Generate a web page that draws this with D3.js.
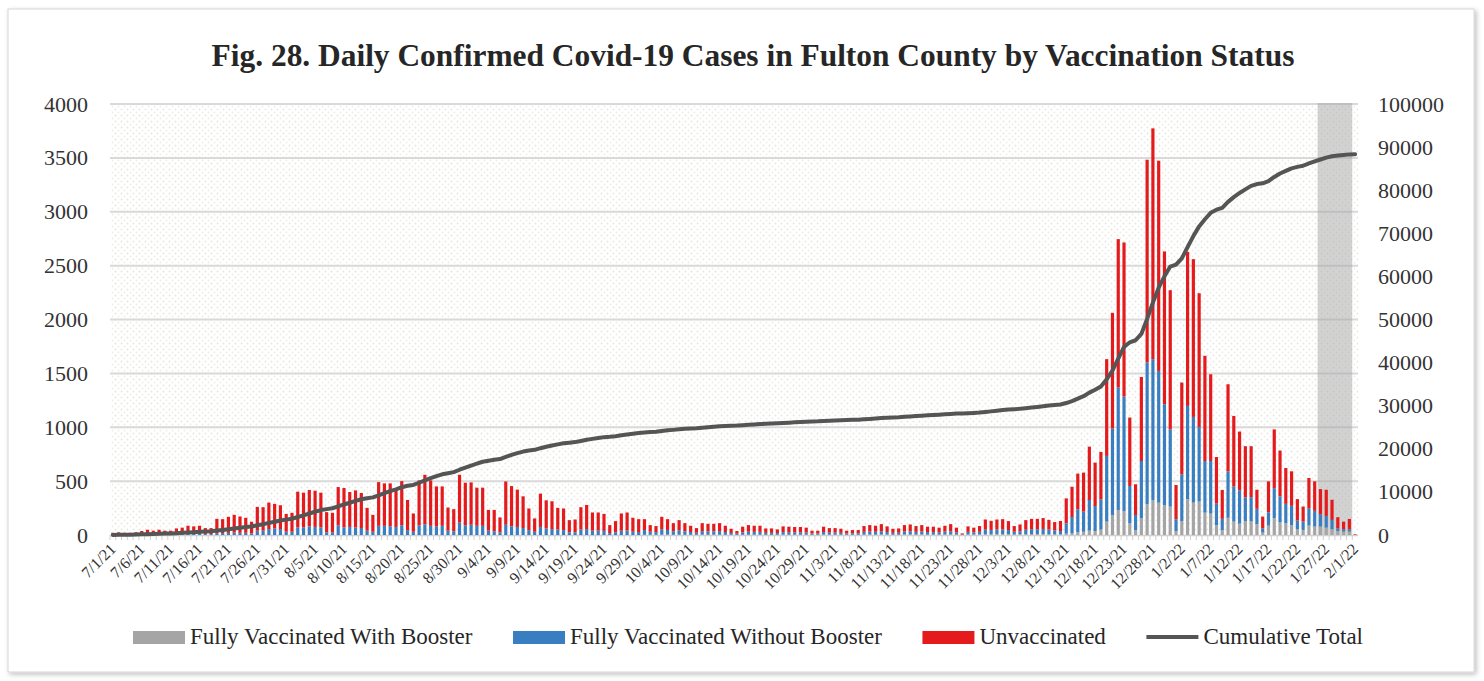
<!DOCTYPE html>
<html>
<head>
<meta charset="utf-8">
<script src="https://cdn.jsdelivr.net/npm/d3@7"></script>
<style>
  body { margin: 0; background: #fff; }
  svg { display: block; }
  text { font-family: "Liberation Serif", "Times New Roman", serif; fill: #262626; }
</style>
</head>
<body>
<svg id="chart" width="1484" height="681"></svg>
<script>
// daily cases 7/1/21 .. 2/1/22
var booster = [
  0,0,0,0,0,0,0,0,0,0, 0,0,0,0,0,0,0,0,0,0, 0,0,0,0,0,0,0,0,0,0,
  0,0,0,0,0,0,0,0,0,0, 0,0,0,0,0,0,0,0,0,0, 0,0,0,0,0,0,0,0,0,0,
  0,0,0,0,0,0,0,0,0,0, 0,0,0,0,0,0,0,0,0,0, 0,0,0,0,0,0,0,0,0,0, 0,0,
  2,2,2,3,3,2,3,2,2,2, 3,3,3,3,2,2,1,2,3,3, 3,2,2,2,3,3,3,3,3,2,
  2,4,3,3,3,2,2,2,4,4, 4,5,4,3,3,5,5,4,5,4, 4,4,5,5,4,1,5,4,5,8,
  7,8,8,7,5,6,8,9,9,9, 8,7,
  8,12,15,25,30,40,35,50,124,186, 232,223,108,43,155,285,322,300,276,263,
  37,130,331,300,310,207,198,90,46,160, 124,105,130,125,100,22,87,155,118,109,
  93,53,47,87,78,78,68,53,37,31, 31,0
];
var noBooster = [
  2,
  3,2,2,3,5,6,5,6,5,5, 8,9,10,10,10,8,8,18,18,20,
  22,20,20,15,40,40,55,60,55,30, 30,70,70,80,75,70,25,25,90,70,
  75,70,65,40,30,85,85,80,75,90, 45,30,90,100,85,80,85,40,35,115,
  90,95,85,85,40,35,25,95,80,75, 65,45,30,75,60,55,50,45,25,25,
  50,55,40,40,38,18,25,40,42,30, 28,
  44,28,25,50,44,33,41,33,26,19, 33,31,31,33,26,17,11,23,28,26,
  26,18,18,16,24,23,22,22,20,12, 12,23,19,19,17,12,14,14,25,28,
  26,30,24,17,18,28,29,25,28,23, 23,20,26,30,20,4,24,20,25,43,
  40,43,44,39,25,29,41,45,45,47, 42,36,
  29,96,152,213,187,285,234,281,610,802, 1136,1062,347,143,532,1316,1310,1223,938,718,
  109,433,867,796,693,480,489,201,104,430, 325,310,220,226,143,40,124,280,240,180,
  178,81,77,162,146,115,109,87,25,22, 22,0
];
var unvaccinated = [
  18,
  22,18,18,22,32,43,35,43,35,35, 53,59,76,70,76,56,56,132,129,149,
  165,152,140,108,221,218,246,229,221,166, 176,332,323,338,336,323,187,181,355,366,
  324,344,325,212,157,406,394,399,339,410, 280,170,417,459,422,371,366,215,205,444,
  395,393,354,354,193,198,138,402,374,346, 294,201,124,309,262,258,202,201,113,119,
  208,224,169,169,158,74,104,160,167,130, 119,
  101,62,56,116,100,75,94,75,58,43, 74,70,70,74,58,39,25,52,61,57,
  57,41,41,34,53,51,49,49,45,26, 26,50,42,42,38,26,30,30,54,60,
  56,66,52,38,40,59,64,54,59,50, 50,44,55,66,44,10,51,44,53,93,
  85,93,95,83,53,63,89,96,96,101, 91,77,
  93,232,281,332,362,495,403,440,898,1074, 1378,1430,635,285,780,1882,2142,1951,1418,1291,
  318,852,1430,1464,1241,976,805,433,268,809, 656,545,474,473,177,109,287,545,426,333,
  320,199,140,280,274,233,243,187,103,71, 96,6
];
var dayTicks = ["7/1/21","7/6/21","7/11/21","7/16/21","7/21/21","7/26/21","7/31/21","8/5/21",
  "8/10/21","8/15/21","8/20/21","8/25/21","8/30/21","9/4/21","9/9/21","9/14/21","9/19/21",
  "9/24/21","9/29/21","10/4/21","10/9/21","10/14/21","10/19/21","10/24/21","10/29/21",
  "11/3/21","11/8/21","11/13/21","11/18/21","11/23/21","11/28/21","12/3/21","12/8/21",
  "12/13/21","12/18/21","12/23/21","12/28/21","1/2/22","1/7/22","1/12/22","1/17/22",
  "1/22/22","1/27/22","2/1/22"];
var leftTicks = [0,500,1000,1500,2000,2500,3000,3500,4000];
var rightTicks = [0,10000,20000,30000,40000,50000,60000,70000,80000,90000,100000];
var seriesNames = ["Fully Vaccinated With Booster","Fully Vaccinated Without Booster","Unvaccinated","Cumulative Total"];
var shadeFrom = "1/26/22", shadeTo = "1/31/22";

var fmt = d3.timeFormat("%-m/%-d/%y");
var days = d3.timeDay.range(new Date(2021, 6, 1), new Date(2022, 1, 2)).map(fmt);

var rows = days.map(function(d, i) {
  return { day: d, booster: booster[i], noBooster: noBooster[i], unvax: unvaccinated[i] };
});
var cumulative = Array.from(d3.cumsum(rows, function(r) { return r.booster + r.noBooster + r.unvax; }));

var svg = d3.select("#chart");
var W = 1484, H = 681;
var plot = { left: 110, right: 1358, top: 104, bottom: 535 };
var colors = { booster: "#a5a5a5", noBooster: "#3a7ec2", unvax: "#e41a1c", line: "#555555" };

// card frame
var defs = svg.append("defs");
var shadow = defs.append("filter").attr("id", "shadow").attr("x", "-2%").attr("y", "-2%").attr("width", "104%").attr("height", "106%");
shadow.append("feDropShadow").attr("dx", 2).attr("dy", 2).attr("stdDeviation", 2.5).attr("flood-color", "#000").attr("flood-opacity", 0.25);
svg.append("rect").attr("x", 8).attr("y", 9).attr("width", W - 18).attr("height", H - 18)
  .attr("fill", "#fff").attr("stroke", "#d6d6d6").attr("filter", "url(#shadow)");

// dotted plot texture
var pat = defs.append("pattern").attr("id", "dots").attr("patternUnits", "userSpaceOnUse").attr("width", 6).attr("height", 6);
pat.append("circle").attr("cx", 1.5).attr("cy", 1.5).attr("r", 0.9).attr("fill", "#e4e6dc");
pat.append("circle").attr("cx", 4.5).attr("cy", 4.5).attr("r", 0.9).attr("fill", "#eceee6");
svg.append("rect").attr("x", plot.left).attr("y", plot.top).attr("width", plot.right - plot.left)
  .attr("height", plot.bottom - plot.top).attr("fill", "url(#dots)");

var x = d3.scaleBand().domain(days).range([plot.left, plot.right]).paddingInner(0.45).paddingOuter(0.22);
var yL = d3.scaleLinear().domain([0, 4000]).range([plot.bottom, plot.top]);
var yR = d3.scaleLinear().domain([0, 100000]).range([plot.bottom, plot.top]);
var step = x.step();
var cx = function(d) { return x(d) + x.bandwidth() / 2; };

// gridlines
svg.append("g").selectAll("line").data(leftTicks.slice(1)).join("line")
  .attr("x1", plot.left).attr("x2", plot.right)
  .attr("y1", function(d) { return yL(d); }).attr("y2", function(d) { return yL(d); })
  .attr("stroke", "#d9d9d9").attr("stroke-width", 2);

// shaded (incomplete) period
svg.append("rect")
  .attr("x", cx(shadeFrom) - step / 2).attr("y", plot.top - 1)
  .attr("width", cx(shadeTo) - cx(shadeFrom) + step).attr("height", plot.bottom - plot.top + 1)
  .attr("fill", "#a6a6a6").attr("opacity", 0.5);

// category ticks under the baseline
svg.append("g").selectAll("line").data(days).join("line")
  .attr("x1", function(d) { return cx(d) - step / 2; }).attr("x2", function(d) { return cx(d) - step / 2; })
  .attr("y1", plot.bottom).attr("y2", plot.bottom + 5)
  .attr("stroke", "#d0d0d0").attr("stroke-width", 1);
svg.append("line").attr("x1", plot.left).attr("x2", plot.right).attr("y1", plot.bottom + 0.5).attr("y2", plot.bottom + 0.5)
  .attr("stroke", "#d0d0d0").attr("stroke-width", 1.5);

// stacked bars
var keys = ["booster", "noBooster", "unvax"];
var stacked = d3.stack().keys(keys)(rows);
svg.append("g").selectAll("g").data(stacked).join("g")
  .attr("fill", function(s) { return colors[s.key]; })
  .selectAll("rect").data(function(s) { return s; }).join("rect")
  .attr("x", function(d) { return x(d.data.day); })
  .attr("width", x.bandwidth())
  .attr("y", function(d) { return yL(d[1]); })
  .attr("height", function(d) { return Math.max(0, yL(d[0]) - yL(d[1])); });

// cumulative line
var line = d3.line()
  .x(function(d, i) { return cx(days[i]); })
  .y(function(d) { return yR(d); });
svg.append("path").datum(cumulative).attr("d", line)
  .attr("fill", "none").attr("stroke", colors.line).attr("stroke-width", 4)
  .attr("stroke-linejoin", "round").attr("stroke-linecap", "round");

// axes
var axL = svg.append("g").attr("transform", "translate(" + plot.left + ",0)")
  .call(d3.axisLeft(yL).tickValues(leftTicks).tickFormat(d3.format("d")).tickSize(0).tickPadding(22));
var axR = svg.append("g").attr("transform", "translate(" + plot.right + ",0)")
  .call(d3.axisRight(yR).tickValues(rightTicks).tickFormat(d3.format("d")).tickSize(0).tickPadding(20));
[axL, axR].forEach(function(a) {
  a.select(".domain").remove();
  a.selectAll("text").attr("font-size", 22).attr("font-family", null).style("fill", "#333");
});

var axB = svg.append("g").attr("transform", "translate(0," + plot.bottom + ")")
  .call(d3.axisBottom(x).tickValues(dayTicks).tickSize(0));
axB.select(".domain").remove();
axB.selectAll("text")
  .attr("font-size", 16).attr("font-family", null).style("fill", "#333")
  .attr("text-anchor", "end").attr("dy", null).attr("y", 0)
  .attr("transform", "translate(4,15) rotate(-45)");

// title
var title = svg.append("text").attr("x", 753).attr("y", 66).attr("text-anchor", "middle")
  .attr("font-weight", "bold").attr("font-size", 28)
  .text("Fig. 28. Daily Confirmed Covid-19 Cases in Fulton County by Vaccination Status");
var tw = title.node().getComputedTextLength();
title.attr("font-size", 28 * 1083 / tw);

// legend
var legendY = 637, legendStart = 133, legendEnd = 1363, swW = 52;
var leg = svg.append("g");
var items = leg.selectAll("g").data(seriesNames).join("g");
items.append("text").attr("font-size", 23).attr("y", legendY + 7).text(function(d) { return d; });
var widths = [];
items.selectAll("text").each(function() { widths.push(this.getComputedTextLength()); });
var gap = (legendEnd - legendStart - d3.sum(widths) - seriesNames.length * (swW + 5)) / (seriesNames.length - 1);
var pos = legendStart;
items.each(function(d, i) {
  var g = d3.select(this);
  if (i < 3) {
    g.insert("rect", "text").attr("x", pos).attr("y", legendY - 6).attr("width", swW).attr("height", 13)
      .attr("fill", colors[keys[i]]);
  } else {
    g.insert("line", "text").attr("x1", pos).attr("x2", pos + swW).attr("y1", legendY).attr("y2", legendY)
      .attr("stroke", colors.line).attr("stroke-width", 4);
  }
  g.select("text").attr("x", pos + swW + 5);
  pos += swW + 5 + widths[i] + gap;
});
</script>
</body>
</html>
